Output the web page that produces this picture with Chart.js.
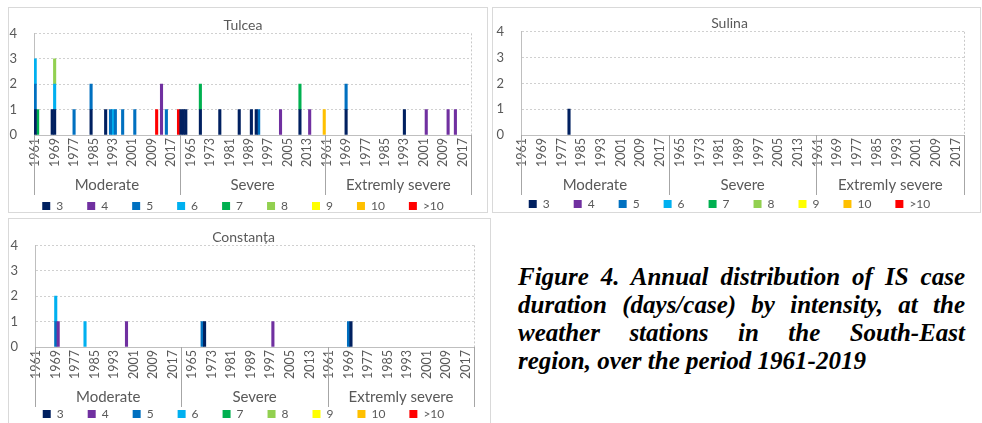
<!DOCTYPE html>
<html>
<head>
<meta charset="utf-8">
<script src="https://cdn.jsdelivr.net/npm/chart.js@4"></script>
<style>
  body { margin: 0; background: #fff; width: 982px; height: 423px; position: relative; overflow: hidden; }
  .panel { position: absolute; box-sizing: border-box; border: 1px solid #d9d9d9; }
  canvas { position: absolute; }
  #caption {
    position: absolute; left: 518px; top: 263px; width: 447px;
    font-family: 'Liberation Serif', serif; font-weight: bold; font-style: italic;
    font-size: 25px; line-height: 28px; color: #000;
  }
  #caption .j { text-align: justify; text-align-last: justify; white-space: nowrap; }
</style>
</head>
<body>
<div class="panel" style="left:8px;top:7px;width:480px;height:206px"></div>
<div class="panel" style="left:492px;top:7px;width:489px;height:206px"></div>
<div class="panel" style="left:8px;top:218px;width:483px;height:210px"></div>
<canvas id="tulcea" width="480" height="206" style="left:8px;top:7px"></canvas>
<canvas id="sulina" width="489" height="206" style="left:492px;top:7px"></canvas>
<canvas id="constanta" width="483" height="205" style="left:8px;top:218px"></canvas>
<div id="caption">
  <div class="j">Figure 4. Annual distribution of IS case</div>
  <div class="j">duration (days/case) by intensity, at the</div>
  <div class="j">weather stations in the South-East</div>
  <div>region, over the period 1961-2019</div>
</div>
<script>
// intensity groups on the outer axis level, years on the inner level
const groups = ['Moderate', 'Severe', 'Extremly severe'];
const firstYear = 1961, lastYear = 2020;
const durations = ['3', '4', '5', '6', '7', '8', '9', '10', '>10'];
const colors = ['#002060', '#7030A0', '#0070C0', '#00B0F0', '#00B050', '#92D050', '#FFFF00', '#FFC000', '#FF0000'];

// cases per duration class: [group index, year, number of cases]
const tulcea3 = [[0,1961,1],[0,1968,1],[0,1969,1],[0,1984,1],[0,1990,1],
  [1,1961,1],[1,1962,1],[1,1963,1],[1,1969,1],[1,1977,1],[1,1985,1],[1,1990,1],[1,1992,1],[1,2010,1],
  [2,1969,1],[2,1993,1]];
const tulcea4 = [[0,2013,2],[1,2002,1],[1,2014,1],[2,2002,1],[2,2011,1],[2,2014,1]];
const tulcea5 = [[0,1961,1],[0,1977,1],[0,1984,1],[0,1992,1],[0,1994,1],[0,1997,1],[0,2002,1],[0,2015,1],
  [1,1993,1],[2,1969,1]];
const tulcea6 = [[0,1961,1],[0,1969,1],[0,1993,1]];
const tulcea7 = [[0,1962,1],[1,1969,1],[1,2010,1]];
const tulcea8 = [[0,1969,1]];
const tulcea9 = [];
const tulcea10 = [[1,2020,1]];
const tulceaOver10 = [[0,2011,1],[0,2020,1]];

const sulina3 = [[0,1980,1]];
const sulina4 = [], sulina5 = [], sulina6 = [], sulina7 = [], sulina8 = [], sulina9 = [], sulina10 = [], sulinaOver10 = [];

const constanta3 = [[1,1970,1],[2,1970,1]];
const constanta4 = [[0,1970,1],[0,1998,1],[1,1998,1]];
const constanta5 = [[0,1969,1],[1,1969,1],[2,1969,1]];
const constanta6 = [[0,1969,1],[0,1981,1]];
const constanta7 = [], constanta8 = [], constanta9 = [], constanta10 = [], constantaOver10 = [];

const years = [];
for (let y = firstYear; y <= lastYear; y++) years.push(String(y));
const labels = [];
groups.forEach(() => years.forEach(y => labels.push(y)));

function toSeries(cases) {
  const out = labels.map(() => null);
  cases.forEach(([g, year, n]) => { out[g * years.length + (year - firstYear)] = n; });
  return out;
}

const grey = '#595959';
const font = (size) => ({ family: 'Lato', size: size });

const groupAxis = {
  id: 'groupAxis',
  afterDraw(chart) {
    const { ctx, chartArea, scales: { x } } = chart;
    const n = years.length;
    ctx.save();
    ctx.strokeStyle = '#c8c8c8';
    ctx.setLineDash([2, 2]);
    ctx.beginPath();
    ctx.moveTo(Math.round(chartArea.right) + 0.5, chartArea.top);
    ctx.lineTo(Math.round(chartArea.right) + 0.5, chartArea.bottom);
    ctx.stroke();
    ctx.setLineDash([]);
    ctx.strokeStyle = '#a6a6a6';
    for (let g = 0; g <= groups.length; g++) {
      let px;
      if (g === 0) px = chartArea.left;
      else if (g === groups.length) px = chartArea.right;
      else px = (x.getPixelForValue(g * n - 1) + x.getPixelForValue(g * n)) / 2;
      px = Math.round(px) + 0.5;
      ctx.beginPath();
      ctx.moveTo(px, chartArea.bottom);
      ctx.lineTo(px, chartArea.bottom + 60);
      ctx.stroke();
    }
    ctx.fillStyle = grey;
    ctx.font = '15px Lato';
    ctx.textAlign = 'center';
    ctx.textBaseline = 'middle';
    groups.forEach((name, g) => {
      const cx = (x.getPixelForValue(g * n) + x.getPixelForValue(g * n + n - 1)) / 2;
      ctx.fillText(name, cx, chartArea.bottom + 50);
    });
    ctx.restore();
  }
};

function makeChart(id, title, series, geo) {
  new Chart(document.getElementById(id), {
    type: 'bar',
    data: {
      labels: labels,
      datasets: series.map((s, k) => ({
        label: durations[k],
        data: toSeries(s),
        backgroundColor: colors[k],
        borderWidth: 0,
        categoryPercentage: 1,
        barPercentage: 1
      }))
    },
    options: {
      responsive: false,
      animation: false,
      layout: { padding: { left: 0, right: geo.right, top: 0, bottom: 0 } },
      plugins: {
        title: {
          display: true, text: title, color: grey,
          font: { family: 'Lato', size: 14, weight: 'normal' },
          padding: { top: geo.titleTop, bottom: 0 }
        },
        legend: {
          position: 'bottom',
          maxHeight: geo.legend,
          labels: { boxWidth: 8, boxHeight: 8, padding: 24, color: grey, font: font(12) }
        },
        tooltip: { enabled: false }
      },
      scales: {
        x: {
          stacked: true,
          grid: { display: false, drawTicks: false },
          border: { color: '#bfbfbf' },
          ticks: {
            autoSkip: false, minRotation: 90, maxRotation: 90, padding: 3,
            color: grey, font: font(12.5),
            callback: (v, i) => (i % 8 === 0 ? labels[i] : '')
          },
          afterFit: s => { s.height = geo.xHeight; }
        },
        y: {
          stacked: true, min: 0, max: 4,
          ticks: { stepSize: 1, padding: 17, color: grey, font: font(13) },
          grid: { color: '#d0d0d0', drawTicks: false },
          border: { color: '#bfbfbf', dash: [2, 2] },
          afterFit: s => { s.width = geo.yWidth; }
        }
      }
    },
    plugins: [groupAxis]
  });
}

makeChart('tulcea', 'Tulcea',
  [tulcea3, tulcea4, tulcea5, tulcea6, tulcea7, tulcea8, tulcea9, tulcea10, tulceaOver10],
  { right: 10, titleTop: 9.6, legend: 37, xHeight: 41, yWidth: 26 });
makeChart('sulina', 'Sulina',
  [sulina3, sulina4, sulina5, sulina6, sulina7, sulina8, sulina9, sulina10, sulinaOver10],
  { right: 14, titleTop: 7.6, legend: 39, xHeight: 39, yWidth: 29 });
makeChart('constanta', 'Constanța',
  [constanta3, constanta4, constanta5, constanta6, constanta7, constanta8, constanta9, constanta10, constantaOver10],
  { right: 12, titleTop: 10.6, legend: 39, xHeight: 37, yWidth: 27 });
</script>
</body>
</html>
